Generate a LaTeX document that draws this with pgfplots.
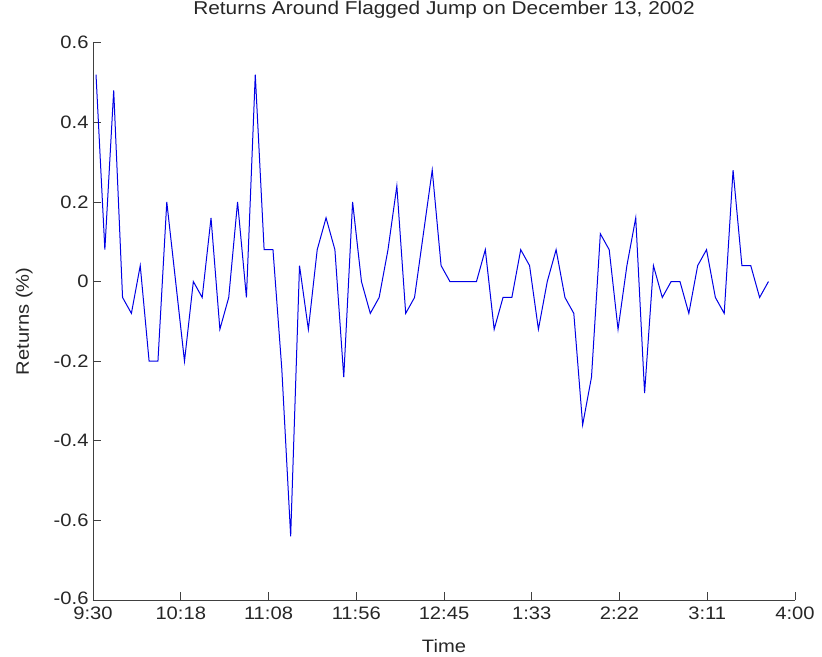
\documentclass[border=0pt]{standalone}
\usepackage{fontspec}
\setmainfont{Liberation Sans}[FakeStretch=1.12]
\usepackage{pgfplots}
\pgfplotsset{compat=1.18}
\begin{document}
\begin{tikzpicture}
\path[use as bounding box] (-93bp,-57bp) rectangle (729bp,600bp);
\begin{axis}[
  scale only axis, width=702bp, height=557.3bp,
  at={(0,0)}, anchor=south west,
  xmin=-0.34, xmax=79.0, ymin=-0.8, ymax=0.6,
  axis x line*=bottom, axis y line*=left,
  axis line style={-, draw=black!75, line width=0.8bp},
  tick align=inside, major tick length=8bp,
  tick style={draw=black!75, line width=0.8bp},
  xtick={-0.34,9.5775,19.495,29.4125,39.33,49.2475,59.165,69.0825,79.0},
  xticklabels={9:30,10:18,11:08,11:56,12:45,1:33,2:22,3:11,4:00},
  ytick={-0.8,-0.6,-0.4,-0.2,0,0.2,0.4,0.6},
  yticklabels={\raisebox{3bp}{-0.6},-0.6,-0.4,-0.2,0,0.2,0.4,0.6},
  ticklabel style={font=\fontsize{18bp}{20bp}\selectfont, text=black!85},
  xticklabel style={yshift=-3bp},
  yticklabel style={xshift=-1bp},
  title={Returns Around Flagged Jump on December 13, 2002},
  title style={font=\fontsize{18.6bp}{20bp}\selectfont, text=black!85, anchor=base, at={(axis description cs:0.5,1.040)}},
  xlabel={Time},
  xlabel style={font=\fontsize{18bp}{20bp}\selectfont, text=black!85, anchor=base, at={(axis description cs:0.5,-0.094)}},
  ylabel={Returns (\%)},
  ylabel style={font=\fontsize{18bp}{20bp}\selectfont, text=black!85, anchor=base, at={(axis description cs:-0.0912,0.5)}},
]
\addplot[color=blue!90!black, line width=1bp, mark=none] table {
0 0.52
1 0.08
2 0.48
3 -0.04
4 -0.08
5 0.04
6 -0.20
7 -0.20
8 0.20
9 0.00
10 -0.20
11 0.00
12 -0.04
13 0.16
14 -0.12
15 -0.04
16 0.20
17 -0.04
18 0.52
19 0.08
20 0.08
21 -0.22
22 -0.64
23 0.04
24 -0.12
25 0.08
26 0.16
27 0.08
28 -0.24
29 0.20
30 0.00
31 -0.08
32 -0.04
33 0.08
34 0.24
35 -0.08
36 -0.04
37 0.12
38 0.28
39 0.04
40 0.00
41 0.00
42 0.00
43 0.00
44 0.08
45 -0.12
46 -0.04
47 -0.04
48 0.08
49 0.04
50 -0.12
51 0.00
52 0.08
53 -0.04
54 -0.08
55 -0.36
56 -0.24
57 0.12
58 0.08
59 -0.12
60 0.04
61 0.16
62 -0.28
63 0.04
64 -0.04
65 0.00
66 0.00
67 -0.08
68 0.04
69 0.08
70 -0.04
71 -0.08
72 0.28
73 0.04
74 0.04
75 -0.04
76 0.00
};
\end{axis}
\end{tikzpicture}
\end{document}
